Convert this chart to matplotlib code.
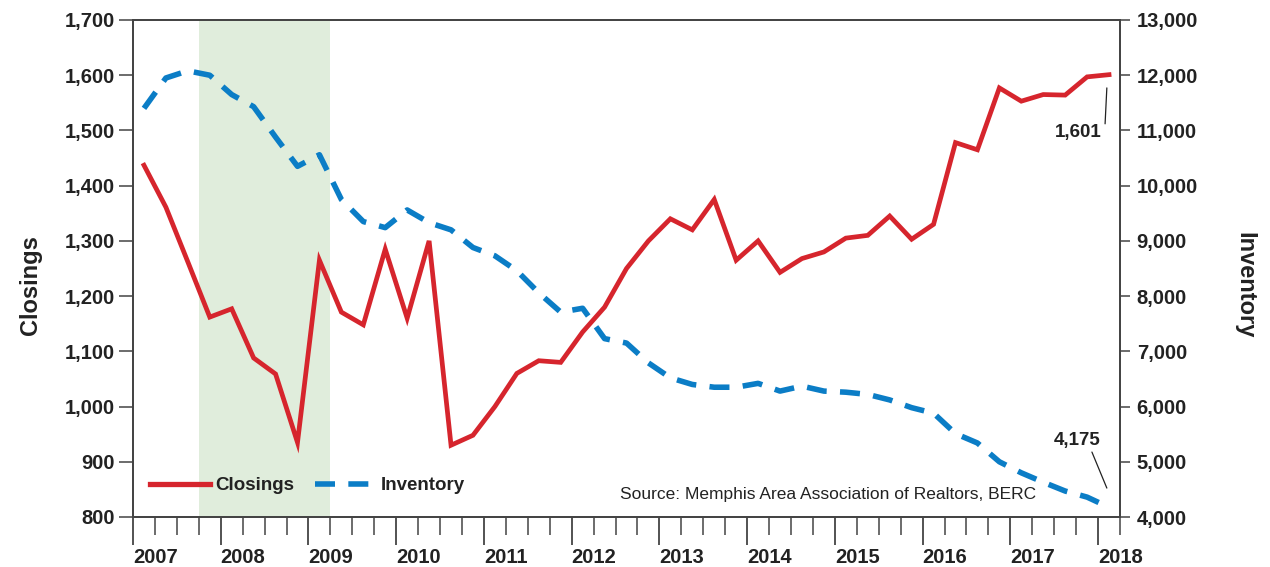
import matplotlib
matplotlib.use("Agg")
import matplotlib.pyplot as plt
from matplotlib.lines import Line2D
import numpy as np

plt.rcParams['font.family'] = ['Liberation Sans', 'DejaVu Sans']

# Quarterly data, 2007 Q1 .. 2018 Q1
quarters = [f"{y}Q{q}" for y in range(2007, 2019) for q in range(1, 5)][:45]
closings = [1437, 1361, 1262, 1162, 1177, 1088, 1059, 935, 1265, 1171, 1148, 1285,
            1160, 1300, 930, 948, 1000, 1060, 1083, 1080, 1135, 1180, 1250, 1300,
            1340, 1320, 1375, 1265, 1300, 1243, 1268, 1280, 1305, 1310, 1345, 1303,
            1330, 1478, 1465, 1577, 1553, 1565, 1564, 1597, 1601]
inventory = [11400, 11950, 12080, 12000, 11650, 11430, 10880, 10350, 10560, 9750,
             9350, 9240, 9560, 9330, 9200, 8880, 8730, 8460, 8060, 7710, 7780, 7230,
             7150, 6790, 6520, 6400, 6350, 6350, 6420, 6280, 6370, 6280, 6260, 6220,
             6120, 5980, 5880, 5510, 5340, 5000, 4800, 4630, 4470, 4360, 4175]
years = list(range(2007, 2019))
recession = (2007.75, 2009.25)

# quarter midpoints
xs = [int(q[:4]) + (int(q[-1]) - 0.5) / 4 for q in quarters]

red = '#d6252d'
blue = '#0b7dc6'
dark = '#222222'

fig = plt.figure(figsize=(12.7, 5.67), dpi=100)
ax = fig.add_axes([133/1270, 1 - 517/567, (1120-133)/1270, (517-20)/567])
ax2 = ax.twinx()

ax.axvspan(*recession, color='#e0eddc', lw=0, zorder=0)
ax.plot(xs, closings, color=red, lw=3.4, solid_joinstyle='miter', zorder=3)
ax2.plot(xs, inventory, color=blue, lw=4.0, dashes=(3.6, 2.4), zorder=3)

ax.set_xlim(2007, 2018.23)
ax.set_ylim(800, 1700)
ax2.set_ylim(4000, 13000)

ax.set_yticks(range(800, 1701, 100))
ax.set_yticklabels([f"{v:,}" for v in range(800, 1701, 100)])
ax2.set_yticks(range(4000, 13001, 1000))
ax2.set_yticklabels([f"{v:,}" for v in range(4000, 13001, 1000)])

ax.set_xticks(years)
ax.set_xticklabels([str(y) for y in years], ha='left')
ax.set_xticks([y + q/4 for y in range(2007, 2018) for q in (1, 2, 3)] + [2018.25], minor=True)

for a in (ax, ax2):
    for s in a.spines.values():
        s.set_color('#444444')
        s.set_linewidth(1.3)

ax.tick_params(axis='y', which='major', direction='out', length=10, width=1.1,
               color='#444444', labelsize=14.5, pad=3)
ax2.tick_params(axis='y', which='major', direction='out', length=7, width=1.1,
                color='#444444', labelsize=14.5, pad=5)
ax.tick_params(axis='x', which='major', direction='out', length=20, width=1.3,
               color='#444444', labelsize=14.5, pad=2)
ax.tick_params(axis='x', which='minor', direction='out', length=13, width=1.1,
               color='#444444')
for lab in ax.get_yticklabels() + ax2.get_yticklabels() + ax.get_xticklabels():
    lab.set_fontweight('bold')
    lab.set_color(dark)

ax.set_ylabel('Closings', fontsize=17, fontweight='bold', color=dark)
ax.yaxis.set_label_coords(-0.092, 0.467)
ax2.set_ylabel('Inventory', fontsize=17, fontweight='bold', color=dark,
               rotation=270, va='center')
ax2.yaxis.set_label_coords(1.127, 0.467)

handles = [Line2D([], [], color=red, lw=3.8),
           Line2D([], [], color=blue, lw=4.0, dashes=(3.6, 2.4))]
leg = ax2.legend(handles, ['Closings', 'Inventory'], loc='lower left',
                 bbox_to_anchor=(0.0, 0.012), ncol=2, frameon=False,
                 handlelength=3.2, handletextpad=0.3, columnspacing=1.1,
                 prop={'weight': 'bold', 'size': 13.5})
for t in leg.get_texts():
    t.set_color(dark)

ax2.text(0.493, 0.045, 'Source: Memphis Area Association of Realtors, BERC',
         transform=ax.transAxes, fontsize=12.5, color=dark, va='center', ha='left')

# Annotations
ax.text(2018.04, 1497, f"{closings[-1]:,}", fontsize=13.5, fontweight='bold',
        color=dark, ha='right', va='center')
ax.annotate('', xy=(2018.10, 1577), xytext=(2018.08, 1512),
            arrowprops=dict(arrowstyle='-', color=dark, lw=0.9, shrinkA=0, shrinkB=0))
ax2.text(2018.03, 5394, f"{inventory[-1]:,}", fontsize=13.5, fontweight='bold',
         color=dark, ha='right', va='center')
ax2.annotate('', xy=(2018.10, 4524), xytext=(2017.93, 5176),
             arrowprops=dict(arrowstyle='-', color=dark, lw=0.9, shrinkA=0, shrinkB=0))

ax.set_zorder(1)
ax.patch.set_visible(False)
ax2.set_zorder(2)

fig.savefig('out.png', dpi=100)
